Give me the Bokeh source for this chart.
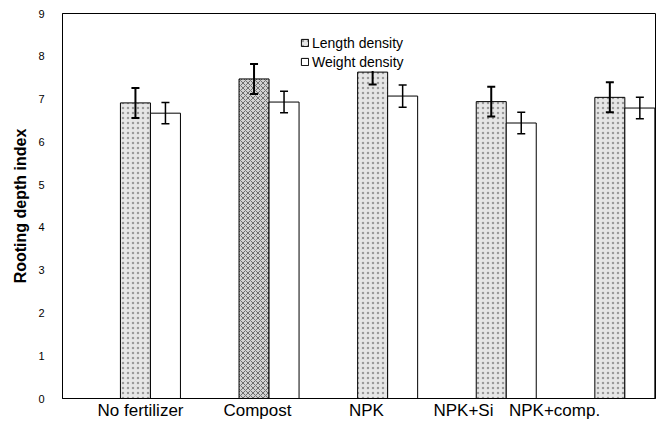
import numpy as np
from bokeh.plotting import figure
from bokeh.models import (ColumnDataSource, Whisker, TeeHead, Legend, LegendItem,
                          FixedTicker, Range1d)
from bokeh.embed import file_html
from bokeh.resources import INLINE

# ---- data ----
treatments = ["No fertilizer", "Compost", "NPK", "NPK+Si", "NPK+comp."]
length_density = [6.91, 7.47, 7.63, 6.94, 7.04]
length_err = [0.35, 0.35, 0.29, 0.35, 0.35]
weight_density = [6.67, 6.93, 7.07, 6.44, 6.79]
weight_err = [0.25, 0.25, 0.26, 0.25, 0.25]
y_ticks = [0, 1, 2, 3, 4, 5, 6, 7, 8, 9]

# ---- layout constants ----
label_pos = [0.658, 1.644, 2.563, 3.381, 4.149]
bar_w = 0.253
FONT = "Liberation Sans"

idx = np.arange(len(treatments))
ln = np.array(length_density)
le = np.array(length_err)
wn = np.array(weight_density)
we = np.array(weight_err)

src = ColumnDataSource(dict(
    x_len=idx + 0.615,
    x_wt=idx + 0.868,
    length=ln, len_lo=ln - le, len_hi=ln + le,
    weight=wn, wt_lo=wn - we, wt_hi=wn + we,
    hatch=["x" if t == "Compost" else "." for t in treatments],
    hcol=["#6e6e6e" if t == "Compost" else "#9a9a9a" for t in treatments],
    fcol=["#d2d2d2" if t == "Compost" else "#e6e6e6" for t in treatments],
))

p = figure(width=665, height=427, x_range=Range1d(0, 5), y_range=Range1d(0, 9),
           output_backend="svg", toolbar_location=None,
           min_border_left=62, min_border_right=10, min_border_top=13, min_border_bottom=29)
p.xgrid.visible = False
p.ygrid.visible = False
p.outline_line_color = "black"
p.outline_line_width = 1
p.background_fill_color = "white"
p.border_fill_color = "white"

r_len = p.vbar(x="x_len", top="length", bottom=0, width=bar_w, source=src,
               fill_color="fcol", line_color="black", line_width=1,
               hatch_pattern="hatch", hatch_color="hcol", hatch_scale=5, hatch_weight=1)
r_wt = p.vbar(x="x_wt", top="weight", bottom=0, width=bar_w, source=src,
              fill_color="white", line_color="black", line_width=1)

p.add_layout(Whisker(source=src, base="x_len", lower="len_lo", upper="len_hi",
                     level="glyph", line_color="black", line_width=2,
                     upper_head=TeeHead(size=8, line_width=2, line_color="black"),
                     lower_head=TeeHead(size=8, line_width=2, line_color="black")))
p.add_layout(Whisker(source=src, base="x_wt", lower="wt_lo", upper="wt_hi",
                     level="glyph", line_color="black", line_width=1.5,
                     upper_head=TeeHead(size=8, line_width=1.5, line_color="black"),
                     lower_head=TeeHead(size=8, line_width=1.5, line_color="black")))

# x axis
xa = p.xaxis[0]
xa.ticker = FixedTicker(ticks=label_pos)
xa.major_label_overrides = {pos: name for pos, name in zip(label_pos, treatments)}
xa.major_tick_line_color = None
xa.minor_tick_line_color = None
xa.major_tick_out = 0
xa.major_tick_in = 0
xa.major_label_standoff = 2
xa.major_label_text_font = FONT
xa.major_label_text_font_size = "17px"
xa.major_label_text_color = "black"
xa.axis_line_color = "black"

# y axis
ya = p.yaxis[0]
ya.ticker = FixedTicker(ticks=y_ticks)
ya.major_tick_out = 0
ya.major_tick_in = 0
ya.minor_tick_line_color = None
ya.major_label_standoff = 18
ya.major_label_text_font = FONT
ya.major_label_text_font_size = "11px"
ya.major_label_text_color = "black"
ya.axis_line_color = "black"
ya.axis_label = "Rooting depth index"
ya.axis_label_text_font = FONT
ya.axis_label_text_font_size = "16px"
ya.axis_label_text_font_style = "bold"
ya.axis_label_text_color = "black"
ya.axis_label_standoff = 6

legend = Legend(items=[LegendItem(label="Length density", renderers=[r_len], index=0),
                       LegendItem(label="Weight density", renderers=[r_wt])],
                location=(238, 327), orientation="vertical",
                glyph_width=9, glyph_height=9, label_standoff=3, label_height=19,
                spacing=0, padding=1, margin=0, border_line_color=None,
                background_fill_color="white", background_fill_alpha=1,
                label_text_font=FONT, label_text_font_size="14px", label_text_color="black")
p.add_layout(legend)

open("out.html", "w").write(file_html(p, INLINE))
